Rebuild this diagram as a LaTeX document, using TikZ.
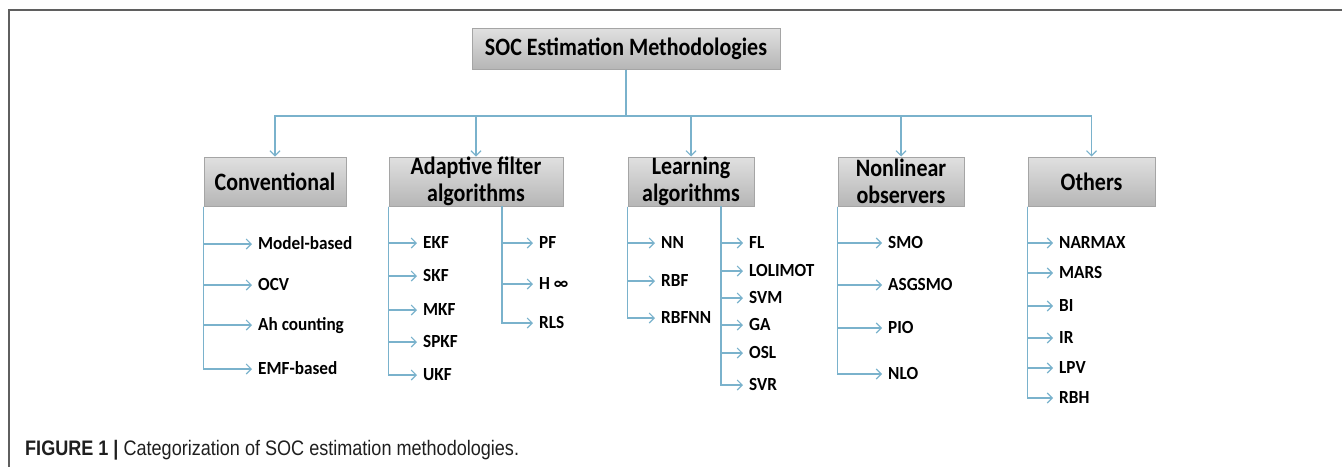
\documentclass[tikz,border=0pt]{standalone}
\usepackage{fontspec}
\setmainfont{Carlito}
\newfontfamily\catfont[FakeStretch=0.88]{Carlito}
\newfontfamily\leaffont[FakeStretch=0.93]{Carlito}
\newfontfamily\capfont[FakeStretch=0.86]{Liberation Sans}
\usetikzlibrary{arrows.meta}

\definecolor{linkblue}{RGB}{122,178,204}
\definecolor{boxedge}{RGB}{165,165,165}
\definecolor{boxtop}{RGB}{224,224,224}
\definecolor{boxbot}{RGB}{182,182,182}
\definecolor{framegray}{RGB}{95,95,95}

\tikzset{
  catbox/.style={draw=boxedge, line width=1pt, top color=boxtop, bottom color=boxbot,
    inner sep=0pt, align=center, font=\catfont\bfseries\fontsize{25}{26.5}\selectfont},
  link/.style={draw=linkblue, line width=1.1pt},
  arr/.style={link, -{Straight Barb[length=5pt,width=10pt]}},
  leaf/.style={anchor=west, inner xsep=6pt, inner ysep=0pt, text height=11.9pt,
    text depth=0pt, font=\leaffont\bfseries\fontsize{18.5}{20}\selectfont},
}

\begin{document}
\begin{tikzpicture}[x=1pt, y=-1pt]
\useasboundingbox (0,0) rectangle (1342,467);

% frame rules
\draw[framegray, line width=1.5pt] (1342,10) -- (9,10) -- (9,467);

% root and categories
\node[catbox, minimum width=308pt, minimum height=41pt] (root) at (626,48.5) {SOC Estimation Methodologies};
\node[catbox, minimum width=142pt, minimum height=49pt] (conv)   at (275,181.5)  {Conventional};
\node[catbox, minimum width=174pt, minimum height=49pt] (adapt)  at (476,181.5)  {Adaptive filter\\algorithms};
\node[catbox, minimum width=126pt, minimum height=49pt] (learn)  at (691,181.5)  {Learning\\algorithms};
\node[catbox, minimum width=126pt, minimum height=49pt] (nonlin) at (901,181.5)  {Nonlinear\\observers};
\node[catbox, minimum width=127pt, minimum height=49pt] (others) at (1091.5,181.5) {Others};

\coordinate (bus) at (626,116);
\foreach \c in {conv,adapt,learn,nonlin,others}
  \draw[arr] (root.south) -- (bus) -| (\c.north);

% Conventional
\node[leaf] (c1) at (252,244) {Model-based};
\node[leaf] (c2) at (252,285) {OCV};
\node[leaf] (c3) at (252,325) {Ah counting};
\node[leaf] (c4) at (252,369) {EMF-based};
\foreach \l in {c1,c2,c3,c4} \draw[arr] (conv.south west) |- (\l.west);

% Adaptive filter algorithms
\node[leaf] (a1) at (417,243) {EKF};
\node[leaf] (a2) at (417,276) {SKF};
\node[leaf] (a3) at (417,310) {MKF};
\node[leaf] (a4) at (417,342) {SPKF};
\node[leaf] (a5) at (417,375) {UKF};
\foreach \l in {a1,a2,a3,a4,a5} \draw[arr] (adapt.south west) |- (\l.west);
\coordinate (adapt2) at (502,206);
\node[leaf] (b1) at (533,243) {PF};
\node[leaf] (b2) at (533,284) {H ∞};
\node[leaf] (b3) at (533,323) {RLS};
\foreach \l in {b1,b2,b3} \draw[arr] (adapt2) |- (\l.west);

% Learning algorithms
\node[leaf] (l1) at (655,243) {NN};
\node[leaf] (l2) at (655,281) {RBF};
\node[leaf] (l3) at (655,318) {RBFNN};
\foreach \l in {l1,l2,l3} \draw[arr] (learn.south west) |- (\l.west);
\coordinate (learn2) at (721,206);
\node[leaf] (m1) at (743,243) {FL};
\node[leaf] (m2) at (743,271) {LOLIMOT};
\node[leaf] (m3) at (743,298) {SVM};
\node[leaf] (m4) at (743,325) {GA};
\node[leaf] (m5) at (743,353) {OSL};
\node[leaf] (m6) at (743,385) {SVR};
\foreach \l in {m1,m2,m3,m4,m5,m6} \draw[arr] (learn2) |- (\l.west);

% Nonlinear observers
\node[leaf] (n1) at (882,243) {SMO};
\node[leaf] (n2) at (882,285) {ASGSMO};
\node[leaf] (n3) at (882,328) {PIO};
\node[leaf] (n4) at (882,374) {NLO};
\foreach \l in {n1,n2,n3,n4} \draw[arr] (nonlin.south west) |- (\l.west);

% Others
\node[leaf] (o1) at (1053,243) {NARMAX};
\node[leaf] (o2) at (1053,273) {MARS};
\node[leaf] (o3) at (1053,306) {BI};
\node[leaf] (o4) at (1053,338) {IR};
\node[leaf] (o5) at (1053,368) {LPV};
\node[leaf] (o6) at (1053,398) {RBH};
\foreach \l in {o1,o2,o3,o4,o5,o6} \draw[arr] (others.south west) |- (\l.west);

% caption
\node[anchor=base west, inner sep=0pt, text=black!88,
      font=\capfont\fontsize{21}{24}\selectfont] (cap) at (25,455)
  {\textbf{FIGURE 1 |} Categorization of SOC estimation methodologies.};
\end{tikzpicture}
\end{document}
